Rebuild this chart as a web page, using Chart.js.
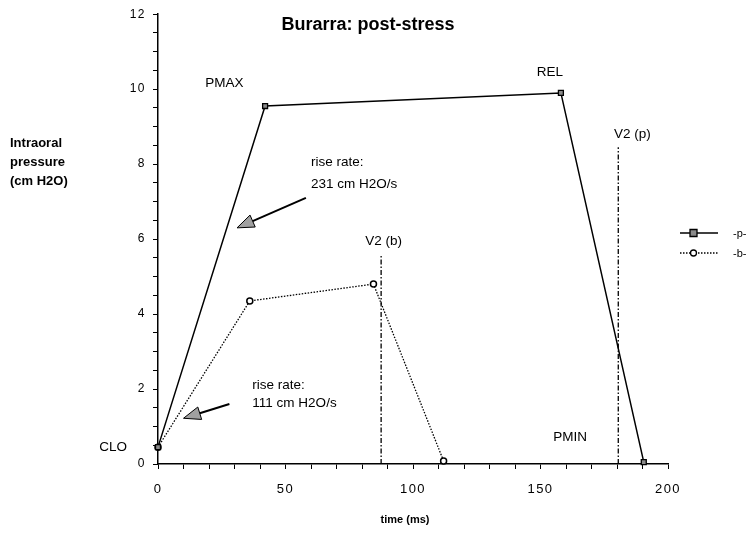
<!DOCTYPE html>
<html>
<head>
<meta charset="utf-8">
<script src="https://cdn.jsdelivr.net/npm/chart.js@4.4.1/dist/chart.umd.min.js"></script>
<style>
  html, body { margin: 0; padding: 0; background: #fff; }
  #wrap { width: 755px; height: 545px; position: relative; }
</style>
</head>
<body>
<div id="wrap"><canvas id="chart" width="755" height="545"></canvas></div>
<script>
// values
const seriesP = { label: '-p-', x: [0, 42, 158, 190.5], y: [0.45, 9.55, 9.9, 0.05] };
const seriesB = { label: '-b-', x: [0, 36, 84.5, 112], y: [0.45, 4.35, 4.8, 0.08] };
const v2b = { x: 87.5, top: 5.6 };
const v2p = { x: 180.5, top: 8.45 };
const xTicks = [0, 50, 100, 150, 200];
const yTicks = [0, 2, 4, 6, 8, 10, 12];

// text labels placed in data units
const notes = [
    { text: 'PMAX', x: 18.5, y: 10.15, align: 'left' },
    { text: 'REL', x: 148.5, y: 10.45, align: 'left' },
    { text: 'CLO', x: -23, y: 0.45, align: 'left' },
    { text: 'PMIN', x: 155, y: 0.7, align: 'left' },
    { text: 'V2 (b)', x: 88.5, y: 5.95, align: 'center' },
    { text: 'V2 (p)', x: 186, y: 8.8, align: 'center' },
    { text: 'rise rate:', x: 60, y: 8.05, align: 'left' },
    { text: '231 cm H2O/s', x: 60, y: 7.45, align: 'left' },
    { text: 'rise rate:', x: 37, y: 2.1, align: 'left' },
    { text: '111 cm H2O/s', x: 37, y: 1.62, align: 'left' }
];
const arrows = [
    { from: [58, 7.1], to: [31, 6.3] },
    { from: [28, 1.6], to: [10, 1.22] }
];

function pts(s) {
    return s.x.map((x, i) => ({ x: x, y: s.y[i] }));
}

// spaced-out tick digits like the original
const spacing = {
    id: 'spacing',
    beforeDraw(chart) { chart.ctx.letterSpacing = '1.5px'; },
    beforeDatasetsDraw(chart) { chart.ctx.letterSpacing = '0px'; }
};

const annotate = {
    id: 'annotate',
    afterDatasetsDraw(chart) {
        const ctx = chart.ctx;
        const xs = chart.scales.x, ys = chart.scales.y;
        ctx.save();
        ctx.letterSpacing = '0px';
        ctx.fillStyle = '#000';
        ctx.font = '13.5px "Liberation Sans", Arial, sans-serif';
        ctx.textBaseline = 'middle';
        notes.forEach(n => {
            ctx.textAlign = n.align;
            ctx.fillText(n.text, xs.getPixelForValue(n.x), ys.getPixelForValue(n.y));
        });

        // arrows with grey heads
        arrows.forEach(a => {
            const x1 = xs.getPixelForValue(a.from[0]), y1 = ys.getPixelForValue(a.from[1]);
            const x2 = xs.getPixelForValue(a.to[0]), y2 = ys.getPixelForValue(a.to[1]);
            const ang = Math.atan2(y2 - y1, x2 - x1);
            const hl = 17, hw = 6.5;
            const bx = x2 - hl * Math.cos(ang), by = y2 - hl * Math.sin(ang);
            ctx.strokeStyle = '#000';
            ctx.lineWidth = 2;
            ctx.beginPath();
            ctx.moveTo(x1, y1);
            ctx.lineTo(bx, by);
            ctx.stroke();
            ctx.beginPath();
            ctx.moveTo(x2, y2);
            ctx.lineTo(bx + hw * Math.sin(ang), by - hw * Math.cos(ang));
            ctx.lineTo(bx - hw * Math.sin(ang), by + hw * Math.cos(ang));
            ctx.closePath();
            ctx.fillStyle = '#a0a0a0';
            ctx.fill();
            ctx.lineWidth = 1;
            ctx.stroke();
        });

        // titles
        ctx.fillStyle = '#000';
        ctx.textAlign = 'center';
        ctx.font = 'bold 18px "Liberation Sans", Arial, sans-serif';
        ctx.fillText('Burarra: post-stress', 368, 25);
        ctx.font = 'bold 11px "Liberation Sans", Arial, sans-serif';
        ctx.fillText('time (ms)', 405, 520);
        ctx.textAlign = 'left';
        ctx.font = 'bold 13px "Liberation Sans", Arial, sans-serif';
        ['Intraoral', 'pressure', '(cm H2O)'].forEach((t, i) => ctx.fillText(t, 10, 143 + i * 19));

        // legend
        const legend = [
            { ds: chart.data.datasets[0], y: 233 },
            { ds: chart.data.datasets[1], y: 253 }
        ];
        legend.forEach(l => {
            ctx.strokeStyle = '#000';
            ctx.lineWidth = l.ds.borderWidth;
            ctx.setLineDash(l.ds.borderDash || []);
            ctx.beginPath();
            ctx.moveTo(680, l.y);
            ctx.lineTo(718, l.y);
            ctx.stroke();
            ctx.setLineDash([]);
            ctx.lineWidth = 1.3;
            ctx.fillStyle = l.ds.pointBackgroundColor;
            ctx.beginPath();
            if (l.ds.pointStyle === 'rect') {
                ctx.rect(690, l.y - 3.5, 7, 7);
            } else {
                ctx.arc(693.5, l.y, 3, 0, Math.PI * 2);
            }
            ctx.fill();
            ctx.stroke();
            ctx.fillStyle = '#000';
            ctx.font = '11px "Liberation Sans", Arial, sans-serif';
            ctx.fillText(l.ds.label, 733, l.y + 1);
        });
        ctx.restore();
    }
};

new Chart(document.getElementById('chart'), {
    type: 'scatter',
    data: {
        datasets: [
            {
                label: seriesP.label,
                data: pts(seriesP),
                showLine: true,
                borderColor: '#000',
                borderWidth: 1.5,
                pointStyle: 'rect',
                pointRadius: 3.5,
                pointBackgroundColor: '#8a8a8a',
                pointBorderColor: '#000',
                pointBorderWidth: 1.3
            },
            {
                label: seriesB.label,
                data: pts(seriesB),
                showLine: true,
                borderColor: '#000',
                borderWidth: 1.3,
                borderDash: [1.5, 1.5],
                pointStyle: 'circle',
                pointRadius: 3,
                pointBackgroundColor: '#fff',
                pointBorderColor: '#000',
                pointBorderWidth: 1.5
            },
            {
                label: 'V2 (b)',
                data: [{ x: v2b.x, y: 0 }, { x: v2b.x, y: v2b.top }],
                showLine: true,
                borderColor: '#000',
                borderWidth: 1.3,
                borderDash: [5, 2, 1.5, 2],
                pointRadius: 0
            },
            {
                label: 'V2 (p)',
                data: [{ x: v2p.x, y: 0 }, { x: v2p.x, y: v2p.top }],
                showLine: true,
                borderColor: '#000',
                borderWidth: 1.3,
                borderDash: [5, 2, 1.5, 2],
                pointRadius: 0
            }
        ]
    },
    options: {
        responsive: false,
        animation: false,
        clip: false,
        layout: { padding: { top: 12, right: 87, bottom: 0, left: 0 } },
        plugins: { legend: { display: false }, tooltip: { enabled: false } },
        scales: {
            x: {
                type: 'linear',
                min: 0, max: 200,
                afterFit: s => { s.height = 81; },
                border: { display: true, color: '#000', width: 1.5 },
                grid: { display: true, drawOnChartArea: false, drawTicks: true, tickLength: 5, color: '#000' },
                ticks: {
                    stepSize: 10,
                    autoSkip: false,
                    maxRotation: 0,
                    padding: 13,
                    color: '#000',
                    font: { family: '"Liberation Sans", Arial, sans-serif', size: 13 },
                    callback: v => xTicks.includes(v) ? v : ''
                }
            },
            y: {
                type: 'linear',
                min: 0, max: 12,
                afterFit: s => { s.width = 158; },
                border: { display: true, color: '#000', width: 1.5 },
                grid: { display: true, drawOnChartArea: false, drawTicks: true, tickLength: 5, color: '#000' },
                ticks: {
                    stepSize: 0.5,
                    autoSkip: false,
                    padding: 7,
                    color: '#000',
                    font: { family: '"Liberation Sans", Arial, sans-serif', size: 12 },
                    callback: v => yTicks.includes(v) ? v : ''
                }
            }
        }
    },
    plugins: [spacing, annotate]
});
</script>
</body>
</html>
